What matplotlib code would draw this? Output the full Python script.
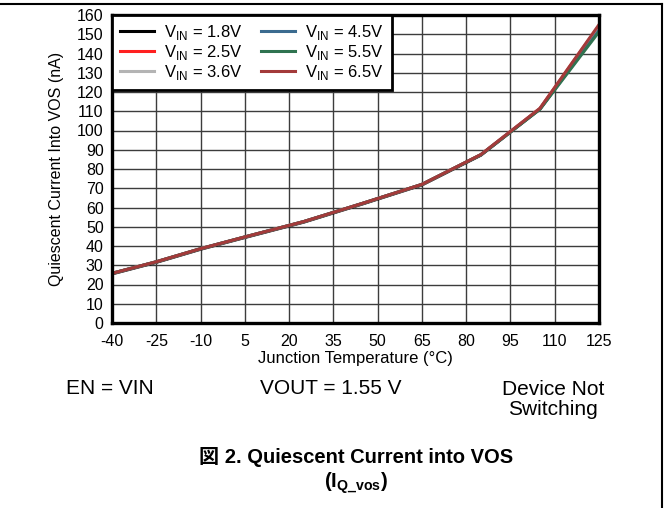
import numpy as np
import matplotlib.pyplot as plt
from matplotlib.lines import Line2D

plt.rcParams['font.family'] = ['Liberation Sans', 'Noto Sans CJK JP', 'DejaVu Sans']
plt.rcParams['mathtext.fontset'] = 'custom'
plt.rcParams['mathtext.rm'] = 'Liberation Sans'
plt.rcParams['mathtext.bf'] = 'Liberation Sans:bold'
plt.rcParams['axes.unicode_minus'] = False

# junction temperature (C)
temps = [-40, -25, -10, 5, 25, 45, 65, 85, 105, 125]
# quiescent current into VOS (nA), one list per VIN
iq_18 = [25.5, 31.5, 38.3, 44.4, 52.4, 61.9, 71.7, 87.2, 111.2, 153.0]
iq_25 = [25.8, 31.8, 38.6, 44.7, 52.7, 62.2, 72.0, 87.5, 111.5, 154.5]
iq_36 = [25.8, 31.8, 38.6, 44.7, 52.7, 62.2, 72.0, 87.5, 111.4, 153.0]
iq_45 = [25.8, 31.8, 38.6, 44.7, 52.7, 62.2, 72.0, 87.4, 111.2, 152.0]
iq_55 = [25.8, 31.8, 38.6, 44.7, 52.7, 62.2, 72.0, 87.4, 111.0, 151.3]
iq_65 = [25.8, 31.8, 38.6, 44.7, 52.7, 62.2, 72.0, 87.5, 111.5, 155.0]
vin_labels = ['1.8V', '2.5V', '3.6V', '4.5V', '5.5V', '6.5V']
colors = ['black', '#ff2020', '#b4b4b4', '#3b6b8f', '#2f7350', '#a33a3a']

xticks = np.arange(-40, 126, 15)
yticks = np.arange(0, 161, 10)

W, H = 669, 508
fig = plt.figure(figsize=(W / 100, H / 100), dpi=100)
ax = fig.add_axes([112 / W, 1 - 323 / H, 487 / W, 308 / H])

series = [iq_18, iq_25, iq_36, iq_45, iq_55, iq_65]
for vals, lab, col in zip(series, vin_labels, colors):
    ax.plot(temps, vals, color=col, lw=2.2,
            label=r'V$_{\mathregular{IN}}$ = ' + lab)

ax.set_xlim(-40, 125)
ax.set_ylim(0, 160)
ax.set_xticks(xticks)
ax.set_yticks(yticks)
ax.tick_params(length=0, labelsize=11.5)
ax.tick_params(axis='x', pad=8)
ax.tick_params(axis='y', pad=6)
ax.grid(True, color='#3c3c3c', lw=1.0)
for s in ax.spines.values():
    s.set_linewidth(2.4)
    s.set_zorder(5)

ax.set_xlabel(u'Junction Temperature (°C)', fontsize=12, labelpad=1)
ax.set_ylabel('Quiescent Current Into VOS (nA)', fontsize=11.5, labelpad=9)

leg = ax.legend(loc='upper left', ncol=2, fontsize=12, frameon=True,
                fancybox=False, borderaxespad=0, handlelength=2.0,
                columnspacing=1.1, labelspacing=0.05, borderpad=0.5,
                handletextpad=0.65)
leg.get_frame().set_edgecolor('black')
leg.get_frame().set_linewidth(2.0)
leg.get_frame().set_alpha(1)
leg.set_zorder(6)

# conditions under the plot
fig.text(110 / W, 1 - 394 / H, 'EN = VIN', fontsize=15, ha='center', va='baseline')
fig.text(331 / W, 1 - 394 / H, 'VOUT = 1.55 V', fontsize=15, ha='center', va='baseline')
fig.text(553 / W, 1 - 395 / H, 'Device Not', fontsize=15, ha='center', va='baseline')
fig.text(553 / W, 1 - 415 / H, 'Switching', fontsize=15, ha='center', va='baseline')

# caption
fig.text(356 / W, 1 - 463 / H, u'図 2. Quiescent Current into VOS', fontsize=14.5,
         fontweight='bold', ha='center', va='baseline')
fig.text(356 / W, 1 - 488 / H, r'(I$_{\mathregular{Q\_vos}}$)', fontsize=14.5,
         fontweight='bold', ha='center', va='baseline')

# page frame lines (top and right)
fig.add_artist(Line2D([0, 662 / W], [1 - 4 / H, 1 - 4 / H], color='black', lw=1.5,
                      transform=fig.transFigure))
fig.add_artist(Line2D([662 / W, 662 / W], [0, 1 - 4 / H], color='black', lw=1.5,
                      transform=fig.transFigure))

fig.savefig('out.png', dpi=100)
